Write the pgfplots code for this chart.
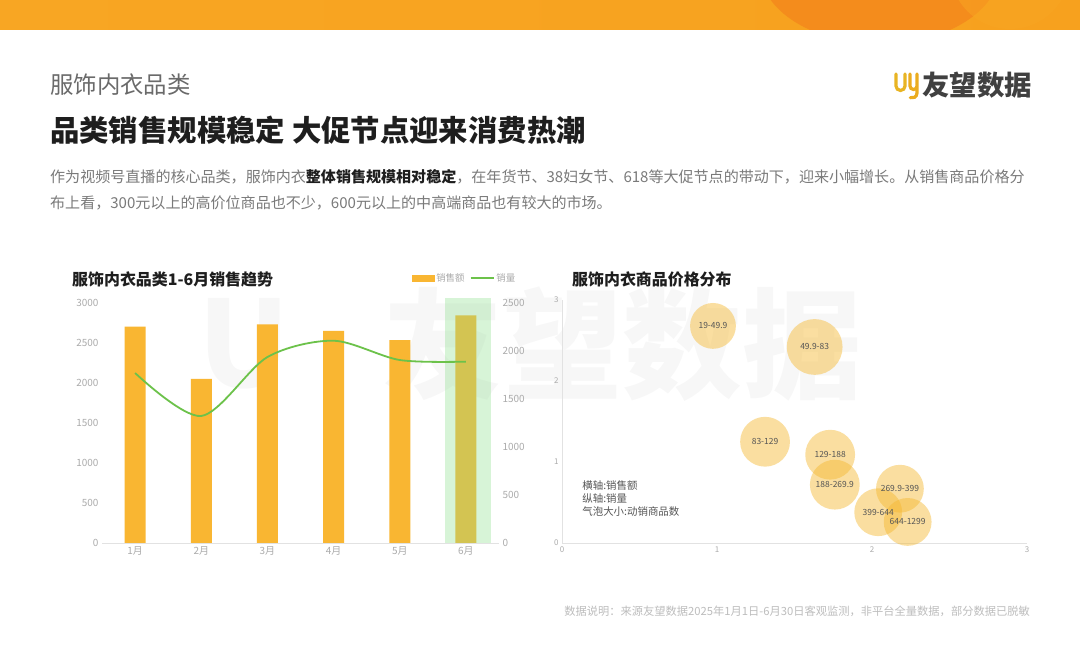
\documentclass[border=0pt]{standalone}
\usepackage{pgfplots}
\usepackage{pgfplotstable}
\pgfplotsset{compat=1.18}
\usepackage{fontspec}
\setmainfont{Noto Sans CJK SC}
\definecolor{barorange}{HTML}{F9B632}
\definecolor{linegreen}{HTML}{6CC24A}
\definecolor{hlgreen}{HTML}{8EE08E}
\definecolor{tickgray}{HTML}{ABABAB}
\definecolor{axisgray}{HTML}{E2E2E2}
\definecolor{bubblecol}{HTML}{F5B82E}
\definecolor{headgray}{HTML}{6A6A6A}
\definecolor{descgray}{HTML}{7A7A7A}
\definecolor{darktext}{HTML}{1E1E1E}
\definecolor{notegray}{HTML}{555555}
\definecolor{footgray}{HTML}{BDBDBD}
\definecolor{bandA}{HTML}{F8A623}
\definecolor{bandB}{HTML}{F7A11E}
\definecolor{bandDark}{HTML}{F27A1A}
\definecolor{gold}{HTML}{E8B423}
\newcommand{\fs}[1]{\fontsize{#1}{#1}\selectfont}
\pgfplotstableread{
x y r label
0.974 2.68 23 19-49.9
1.63 2.42 28 49.9-83
1.31 1.25 25 83-129
1.73 1.09 25 129-188
1.76 0.72 25 188-269.9
2.18 0.67 24 269.9-399
2.04 0.38 24 399-644
2.23 0.26 24 644-1299
}\bubbles
\begin{document}
\begin{tikzpicture}
\begin{scope}[x=1bp,y=1bp]
\path[use as bounding box, fill=white] (0,0) rectangle (1080,669);
% top band
\begin{scope}
\clip (0,639) rectangle (1080,669);
\shade[left color=bandA, right color=bandB] (0,639) rectangle (1080,669);
\fill[bandDark, opacity=0.55] (880,700) ellipse [x radius=120, y radius=75];
\fill[bandA, opacity=0.5] (1010,700) ellipse [x radius=60, y radius=60];
\end{scope}
% watermark
\node[anchor=west, text=black, opacity=0.03, font=\fs{120}\bfseries] at (380,325) {友望数据};
\node[anchor=west, text=black, opacity=0.03, font=\fs{120}\bfseries] at (195,325) {U};
% headers
\node[anchor=west, inner sep=0, text=headgray, font=\fs{23.5}] at (50,584) {服饰内衣品类};
\draw[gold, line width=3.2, line cap=round] (896,595)--(896,583) arc(180:360:4.5)--(905,595);
\draw[gold!85!orange, line width=3.2, line cap=round] (910,595)--(910,583) arc(180:360:3.5)--(917,595) (917,586)--(917,576) arc(0:-110:5);
\node[anchor=west, inner sep=0, text=darktext!85, font=\fs{27.5}\bfseries] at (922,584) {友望数据};
\node[anchor=west, inner sep=0, text=darktext, font=\fs{29.5}\bfseries] at (50,539) {品类销售规模稳定 大促节点迎来消费热潮};
\node[anchor=west, inner sep=0, text=descgray, font=\fs{15.1}] at (50,492) {作为视频号直播的核心品类，服饰内衣\textcolor{darktext}{\bfseries 整体销售规模相对稳定}，在年货节、38妇女节、618等大促节点的带动下，迎来小幅增长。从销售商品价格分};
\node[anchor=west, inner sep=0, text=descgray, font=\fs{15.1}] at (50,466) {布上看，300元以上的高价位商品也不少，600元以上的中高端商品也有较大的市场。};
% chart titles
\node[anchor=west, inner sep=0, text=darktext, font=\fs{16}\bfseries] at (72,390) {服饰内衣品类1-6月销售趋势};
\node[anchor=west, inner sep=0, text=darktext, font=\fs{16}\bfseries] at (572,390) {服饰内衣商品价格分布};
% footer
\node[anchor=east, inner sep=0, text=footgray, font=\fs{11.3}] at (1030,58) {数据说明：来源友望数据2025年1月1日-6月30日客观监测，非平台全量数据，部分数据已脱敏};
\end{scope}

% left chart: bars
\begin{axis}[
  at={(102bp,126bp)}, anchor=south west,
  scale only axis, width=397bp, height=240bp,
  xmin=0.5, xmax=6.5, ymin=0, ymax=3000,
  axis x line*=bottom, axis y line*=left,
  x axis line style={-, draw=axisgray, line width=0.8pt},
  y axis line style={draw=none},
  xtick={1,2,3,4,5,6},
  xticklabels={1月,2月,3月,4月,5月,6月},
  ytick={0,500,1000,1500,2000,2500,3000},
  tick style={draw=none}, major tick length=0pt,
  tick label style={font=\fs{10}, text=tickgray},
  /pgf/number format/assume math mode=true,
  /pgf/number format/1000 sep={},
  clip=false,
]
\addplot[ybar, bar width=21bp, fill=barorange, draw=none] coordinates {
(1,2704) (2,2050) (3,2733) (4,2650) (5,2537) (6,2846)};
\fill[hlgreen, opacity=0.35] (axis cs:5.68,0) rectangle (axis cs:6.38,3060);
\end{axis}

% left chart: line on right axis
\begin{axis}[
  at={(102bp,126bp)}, anchor=south west,
  scale only axis, width=397bp, height=240bp,
  xmin=0.5, xmax=6.5, ymin=0, ymax=2500,
  axis x line=none, axis y line*=right,
  y axis line style={draw=none},
  ytick={0,500,1000,1500,2000,2500},
  tick style={draw=none}, major tick length=0pt,
  tick label style={font=\fs{10}, text=tickgray},
  /pgf/number format/assume math mode=true,
  /pgf/number format/1000 sep={},
  clip=false,
  legend style={at={(axis description cs:0.78,1.104)}, anchor=west, draw=none, fill=none,
    font=\fs{9.5}, text=tickgray, inner sep=0pt, legend columns=2,
    /tikz/every even column/.append style={column sep=3bp}},
]
\addlegendimage{legend image code/.code={\fill[barorange] (0bp,-3bp) rectangle (22bp,3bp);}}
\addlegendentry{销售额}
\addplot[smooth, linegreen, line width=1.8bp, mark=none,
  legend image code/.code={\draw[linegreen, line width=1.8bp] (0bp,0bp)--(23bp,0bp);}] coordinates {
(1,1771) (2,1323) (3,1937) (4,2107) (5,1906) (6,1889)};
\addlegendentry{销量}
\end{axis}

% right chart: bubbles
\begin{axis}[
  at={(562bp,126bp)}, anchor=south west,
  scale only axis, width=465bp, height=243bp,
  xmin=0, xmax=3, ymin=0, ymax=3,
  axis lines=left, axis line style={-, draw=axisgray, line width=0.8pt},
  xtick={0,1,2,3}, ytick={0,1,2,3},
  tick style={draw=none}, major tick length=0pt,
  tick label style={font=\fs{8}, text=tickgray},
  /pgf/number format/assume math mode=true,
  clip=false,
]
\addplot[scatter, only marks, mark=*,
  point meta=\thisrow{r},
  scatter/use mapped color={draw=bubblecol, draw opacity=0, fill=bubblecol, fill opacity=0.45},
  visualization depends on={\thisrow{r}\as\rad},
  scatter/@pre marker code/.append style={/tikz/mark size=\rad}]
  table[x=x, y=y] {\bubbles};
\addplot[draw=none, mark=none, point meta=explicit symbolic,
  nodes near coords, nodes near coords align=center,
  every node near coord/.append style={font=\fs{8.5}, text=notegray, anchor=center}]
  table[x=x, y=y, meta=label] {\bubbles};
\node[anchor=north west, align=left, inner sep=0, font=\fontsize{10.5}{13}\selectfont, text=notegray]
  at (axis cs:0.13,0.77) {横轴:销售额\\纵轴:销量\\气泡大小:动销商品数};
\end{axis}
\end{tikzpicture}
\end{document}
